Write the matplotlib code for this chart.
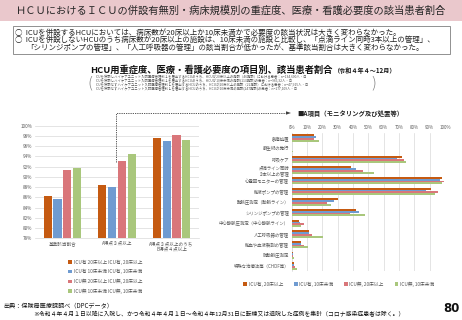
import matplotlib
matplotlib.use('Agg')
import matplotlib.pyplot as plt
import numpy as np
from matplotlib.patches import Rectangle

plt.rcParams['font.family'] = ['Noto Sans CJK JP', 'DejaVu Sans']

W, H = 462, 320

# series (same order in both charts)
series_names = ['ICU有, 20床以上', 'ICU有, 10床未満', 'ICU無, 20床以上', 'ICU無, 10床未満']
left_legend_labels = ['ICU有 20床以上 ICU有, 20床以上', 'ICU有 10床未満 ICU有, 10床未満',
                      'ICU無 20床以上 ICU無, 20床以上', 'ICU無 10床未満 ICU無, 10床未満']
colors = ['#C55A11', '#6F9BD1', '#D9767A', '#A9C77C']

# left chart: 基準該当割合 etc.
left_categories = ['基準該当割合', 'A得点３点以上', 'A得点３点以上のうち\nB得点４点以上']
left_icu_20 = [86.3, 88.4, 97.5]
left_icu_10 = [85.6, 88.0, 97.1]
left_noicu_20 = [91.3, 93.1, 98.1]
left_noicu_10 = [91.7, 94.4, 97.2]
left_yticks = list(range(78, 101, 2))

# right chart: A項目
right_items = ['創傷処置', '蘇生術の施行', '呼吸ケア', '点滴ライン同時\n３本以上の管理',
               '心電図モニターの管理', '輸液ポンプの管理', '動脈圧測定（動脈ライン）',
               'シリンジポンプの管理', '中心静脈圧測定（中心静脈ライン）', '人工呼吸器の管理',
               '輸血や血液製剤の管理', '肺動脈圧測定', '特殊な治療法等（CHDF等）']
right_icu_20 = [14.6, 0.3, 71.9, 38.8, 98.2, 90.6, 30.5, 42.0, 4.6, 11.1, 6.3, 0.6, 1.5]
right_icu_10 = [15.9, 0.2, 69.0, 42.0, 96.9, 87.8, 27.4, 43.6, 5.4, 11.1, 5.9, 0.6, 1.5]
right_noicu_20 = [14.6, 0.4, 73.4, 46.4, 99.5, 95.4, 22.9, 38.1, 8.0, 13.3, 8.0, 1.1, 2.4]
right_noicu_10 = [18.0, 0.7, 74.3, 53.8, 98.0, 93.7, 25.5, 47.9, 6.3, 20.2, 10.4, 1.5, 3.3]
right_xticks = list(range(0, 101, 10))

n_lines = [
    'ICUを併設しハイケアユニット入院医療管理料１を届出するHCUのうち、HCUが20床以上の施設（46施設）における患者：n=134,600人・日',
    'ICUを併設しハイケアユニット入院医療管理料１を届出するHCUのうち、HCUが10床未満の施設(113施設)の患者：n=966,32人・日',
    'ICUを併設せずハイケアユニット入院医療管理料１を届出するHCUのうち、HCUが20床以上の施設（22施設）における患者：n=47,915人・日',
    'ICUを併設せずハイケアユニット入院医療管理料１を届出するHCUのうち、HCUが10床未満の施設(247施設)の患者：n=177,109人・日',
]


def fx(x):
    return x / W


def fy(y):
    return 1 - y / H


fig = plt.figure(figsize=(W / 100, H / 100), dpi=100)
fig.patch.set_facecolor('white')

# title band
fig.patches.append(Rectangle((0, fy(21)), 1, 21 / H, transform=fig.transFigure,
                             facecolor='#EAC8CC', edgecolor='none', zorder=0))
fig.text(0.5, fy(10.5), 'ＨＣＵにおけるＩＣＵの併設有無別・病床規模別の重症度、医療・看護必要度の該当患者割合',
         ha='center', va='center', fontsize=7.4, color='#262626')

# summary box
fig.patches.append(Rectangle((fx(12.7), fy(53.5)), (450 - 12.7) / W, (53.5 - 26) / H,
                             transform=fig.transFigure, facecolor='white',
                             edgecolor='#7F7F7F', lw=0.6))
fig.text(fx(15), fy(33), '○  ICUを併設するHCUにおいては、病床数が20床以上か10床未満かで必要度の該当状況は大きく変わらなかった。',
         ha='left', va='center', fontsize=5.4, color='#222222')
fig.text(fx(15), fy(40.3), '○  ICUを併設しないHCUのうち病床数が20床以上の施設は、10床未満の施設と比較し、「点滴ライン同時3本以上の管理」、',
         ha='left', va='center', fontsize=5.4, color='#222222')
fig.text(fx(26), fy(47.7), '「シリンジポンプの管理」、「人工呼吸器の管理」の該当割合が低かったが、基準該当割合は大きく変わらなかった。',
         ha='left', va='center', fontsize=5.4, color='#222222')

# subtitle
fig.text(fx(90), fy(70), 'HCU用重症度、医療・看護必要度の項目別、該当患者割合', ha='left', va='center',
         fontsize=6.7, fontweight='bold', color='#111111')
fig.text(fx(334), fy(70.5), '（令和４年４～12月）', ha='left', va='center',
         fontsize=4.4, fontweight='bold', color='#111111')
for i, line in enumerate(n_lines):
    fig.text(fx(96), fy(77.5 + 4 * i), line, ha='left', va='center', fontsize=2.4, color='#555555')
fig.text(fx(90), fy(83.5), '(', ha='center', va='center', fontsize=11, color='#777777',
         family='DejaVu Sans', fontweight='light')
fig.text(fx(373), fy(83.5), ')', ha='center', va='center', fontsize=11, color='#777777',
         family='DejaVu Sans', fontweight='light')

# dashed arrow from left chart to right chart
fig.add_artist(matplotlib.lines.Line2D([fx(116), fx(116), fx(287)], [fy(162), fy(113), fy(113)],
                                       transform=fig.transFigure, color='#404040', lw=0.6,
                                       linestyle=(0, (1.5, 1.2))))
fig.add_artist(matplotlib.patches.Polygon([[fx(286), fy(111.3)], [fx(291), fy(113)], [fx(286), fy(114.7)]],
                                          closed=True, transform=fig.transFigure,
                                          facecolor='#404040', edgecolor='none'))
fig.text(fx(297), fy(113.5), '■A項目（モニタリング及び処置等）', ha='left', va='center',
         fontsize=4.6, fontweight='bold', color='#222222')

# ---- left chart ----
ax1 = fig.add_axes([fx(35), fy(238.2), (199 - 35) / W, (238.2 - 125.7) / H])
left_series = [left_icu_20, left_icu_10, left_noicu_20, left_noicu_10]
x = np.arange(len(left_categories))
for i, vals in enumerate(left_series):
    ax1.bar(x + (i - 1.5) * 0.178, vals, width=0.148, color=colors[i],
            label=left_legend_labels[i], zorder=3)
ax1.set_ylim(78, 100)
ax1.set_xlim(-0.5, 2.5)
ax1.set_yticks(left_yticks)
ax1.set_yticklabels([f'{v}%' for v in left_yticks])
ax1.set_xticks(x)
ax1.set_xticklabels(left_categories)
ax1.tick_params(axis='both', length=0, labelsize=3.3, labelcolor='#595959', pad=2)
ax1.grid(axis='y', color='#D9D9D9', lw=0.5, zorder=0)
for s in ['top', 'right', 'left']:
    ax1.spines[s].set_visible(False)
ax1.spines['bottom'].set_color('#D9D9D9')
ax1.spines['bottom'].set_linewidth(0.5)
ax1.legend(loc='upper left', bbox_to_anchor=(fx(66), fy(257)), bbox_transform=fig.transFigure,
           frameon=False, fontsize=3.4, handlelength=0.8, handleheight=0.8,
           handletextpad=0.5, labelspacing=0.95, borderpad=0, labelcolor='#595959')

# ---- right chart ----
ax2 = fig.add_axes([fx(291.7), fy(271.3), (445 - 291.7) / W, (271.3 - 132.7) / H])
right_series = [right_icu_20, right_icu_10, right_noicu_20, right_noicu_10]
y = np.arange(len(right_items))
for i, vals in enumerate(right_series):
    ax2.barh(y + (i - 1.5) * 0.17, vals, height=0.17, color=colors[i],
             label=series_names[i], zorder=3)
ax2.set_xlim(0, 100)
ax2.set_ylim(len(right_items) - 0.5, -0.5)
ax2.set_xticks(right_xticks)
ax2.set_xticklabels([f'{v}%' for v in right_xticks])
ax2.xaxis.tick_top()
ax2.set_yticks(y)
ax2.set_yticklabels(right_items)
ax2.tick_params(axis='both', length=0, labelsize=3.2, labelcolor='#595959', pad=2)
ax2.grid(axis='x', color='#D9D9D9', lw=0.5, zorder=0)
for s in ['top', 'right', 'bottom']:
    ax2.spines[s].set_visible(False)
ax2.spines['left'].set_color('#D9D9D9')
ax2.spines['left'].set_linewidth(0.5)
ax2.legend(loc='center left', bbox_to_anchor=(fx(241), fy(284)), bbox_transform=fig.transFigure,
           ncol=4, frameon=False, fontsize=3.4, handlelength=0.8, handleheight=0.8,
           handletextpad=0.3, columnspacing=2.3, borderpad=0, labelcolor='#595959')

# footer
fig.text(fx(3), fy(305.5), '出典：保険局医療課調べ（DPCデータ）', ha='left', va='center',
         fontsize=4.4, color='#111111')
fig.text(fx(33), fy(314.5), '※令和４年４月１日以降に入院し、かつ令和４年４月１日～令和４年12月31日に転棟又は退院した症例を集計（コロナ感染症患者は除く。）',
         ha='left', va='center', fontsize=4.2, color='#111111')
fig.text(fx(451), fy(309), '80', ha='center', va='center', fontsize=8.5,
         fontweight='bold', color='#111111', family='DejaVu Sans')

fig.savefig('out.png', dpi=100)
